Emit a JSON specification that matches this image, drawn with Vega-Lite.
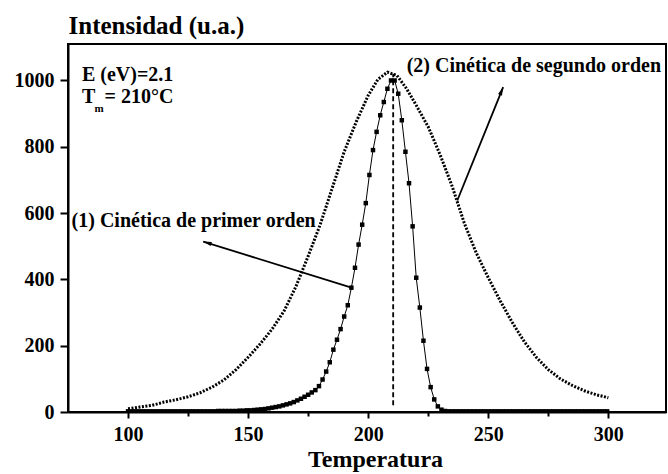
{
  "$schema": "https://vega.github.io/schema/vega-lite/v6.json",
  "width": 598,
  "height": 368,
  "autosize": "none",
  "padding": {"left": 68, "top": 44, "right": 2, "bottom": 62},
  "background": "white",
  "config": {
    "view": {"stroke": "black", "strokeWidth": 2},
    "font": "Liberation Serif"
  },
  "datasets": {
    "second": [
      {"T":100,"I":10},{"T":105,"I":15},{"T":110,"I":20},{"T":115,"I":30},{"T":120,"I":37},{"T":125,"I":46},{"T":130,"I":58},{"T":135,"I":75},{"T":140,"I":97},{"T":145,"I":128},{"T":150,"I":165},{"T":155,"I":205},{"T":160,"I":250},{"T":165,"I":305},{"T":170,"I":380},{"T":175,"I":470},{"T":180,"I":565},{"T":185,"I":675},{"T":190,"I":785},{"T":195,"I":875},{"T":200,"I":955},{"T":204,"I":1003},{"T":208,"I":1025},{"T":212,"I":1015},{"T":216,"I":975},{"T":220,"I":925},{"T":225,"I":860},{"T":230,"I":775},{"T":235,"I":680},{"T":240,"I":570},{"T":245,"I":480},{"T":250,"I":405},{"T":255,"I":335},{"T":260,"I":270},{"T":265,"I":212},{"T":270,"I":165},{"T":275,"I":128},{"T":280,"I":100},{"T":285,"I":80},{"T":290,"I":64},{"T":295,"I":52},{"T":300,"I":43}
    ],
    "first": [
      {"T":100,"I":2},{"T":101.5,"I":2},{"T":103,"I":2},{"T":104.5,"I":2},{"T":106,"I":2},{"T":107.5,"I":2},{"T":109,"I":2},{"T":110.5,"I":2},{"T":112,"I":2},{"T":113.5,"I":2},{"T":115,"I":2},{"T":116.5,"I":2},{"T":118,"I":2},{"T":119.5,"I":2},{"T":121,"I":2},{"T":122.5,"I":2},{"T":124,"I":2},{"T":125.5,"I":2},{"T":127,"I":2},{"T":128.5,"I":2},{"T":130,"I":2},{"T":131.5,"I":2},{"T":133,"I":2},{"T":134.5,"I":2},{"T":136,"I":2},{"T":137.5,"I":3},{"T":139,"I":3},{"T":140.5,"I":3},{"T":142,"I":3},{"T":143.5,"I":3},{"T":145,"I":3},{"T":146.5,"I":4},{"T":148,"I":4},{"T":149.5,"I":5},{"T":151,"I":5},{"T":152.5,"I":6},{"T":154,"I":7},{"T":155.5,"I":8},{"T":157,"I":9},{"T":158.5,"I":11},{"T":160,"I":13},{"T":161.5,"I":15},{"T":163,"I":17},{"T":164.5,"I":20},{"T":166,"I":23},{"T":167.5,"I":26},{"T":169,"I":30},{"T":170.5,"I":35},{"T":172,"I":40},{"T":173.5,"I":46},{"T":175,"I":52},{"T":176.5,"I":59},{"T":178,"I":66},{"T":179.5,"I":78},{"T":181,"I":98},{"T":182.5,"I":122},{"T":184,"I":150},{"T":185.5,"I":188},{"T":187,"I":218},{"T":188.5,"I":250},{"T":190,"I":288},{"T":191.5,"I":322},{"T":193,"I":375},{"T":194.5,"I":435},{"T":196,"I":505},{"T":197.5,"I":565},{"T":199,"I":630},{"T":200.5,"I":715},{"T":202,"I":790},{"T":203.5,"I":845},{"T":205,"I":895},{"T":206.5,"I":935},{"T":208,"I":975},{"T":209.5,"I":1000},{"T":211,"I":1000},{"T":212.5,"I":960},{"T":214,"I":880},{"T":215.5,"I":785},{"T":217,"I":690},{"T":218.5,"I":560},{"T":220,"I":405},{"T":221.5,"I":315},{"T":223,"I":215},{"T":224.5,"I":130},{"T":226,"I":75},{"T":227.5,"I":38},{"T":229,"I":17},{"T":230.5,"I":7},{"T":232,"I":3},{"T":233.5,"I":2},{"T":235,"I":2},{"T":236.5,"I":2},{"T":238,"I":2},{"T":239.5,"I":2},{"T":241,"I":2},{"T":242.5,"I":2},{"T":244,"I":2},{"T":245.5,"I":2},{"T":247,"I":2},{"T":248.5,"I":2},{"T":250,"I":2},{"T":251.5,"I":2},{"T":253,"I":2},{"T":254.5,"I":2},{"T":256,"I":2},{"T":257.5,"I":2},{"T":259,"I":2},{"T":260.5,"I":2},{"T":262,"I":2},{"T":263.5,"I":2},{"T":265,"I":2},{"T":266.5,"I":2},{"T":268,"I":2},{"T":269.5,"I":2},{"T":271,"I":2},{"T":272.5,"I":2},{"T":274,"I":2},{"T":275.5,"I":2},{"T":277,"I":2},{"T":278.5,"I":2},{"T":280,"I":2},{"T":281.5,"I":2},{"T":283,"I":2},{"T":284.5,"I":2},{"T":286,"I":2},{"T":287.5,"I":2},{"T":289,"I":2},{"T":290.5,"I":2},{"T":292,"I":2},{"T":293.5,"I":2},{"T":295,"I":2},{"T":296.5,"I":2},{"T":298,"I":2},{"T":299.5,"I":2}
    ],
    "tm": [{"T":210.4,"I":20,"I2":1020}],
    "arrows": [
      {"a":1,"T":192.7,"I":376,"T2":131.3,"I2":514},
      {"a":2,"T":237.1,"I":638,"T2":256.2,"I2":980}
    ],
    "labels": [
      {"T":80.8,"I":1015,"txt":"E (eV)=2.1"},
      {"T":80.8,"I":949,"txt":"T"},
      {"T":90.2,"I":949,"txt":"= 210°C"},
      {"T":76.5,"I":575,"txt":"(1) Cinética de primer orden"},
      {"T":216,"I":1045,"txt":"(2) Cinética de segundo orden"}
    ],
    "sub": [{"T":86.0,"I":915,"txt":"m"}]
  },
  "layer": [
    {
      "data": {"name": "second"},
      "mark": {"type": "line", "color": "black", "strokeWidth": 3, "strokeDash": [2, 1.5], "clip": true},
      "encoding": {
        "x": {
          "field": "T", "type": "quantitative",
          "scale": {"domain": [75, 324], "nice": false, "zero": false},
          "axis": {
            "values": [100,125,150,175,200,225,250,275,300],
            "labelExpr": "datum.value % 50 === 0 ? datum.label : ''",
            "grid": false,
            "domainColor": "black", "domainWidth": 2,
            "tickColor": "black", "tickWidth": 2,
            "tickSize": {"condition": {"test": "datum.value % 50 !== 0", "value": 4}, "value": 6},
            "labelFont": "Liberation Serif", "labelFontSize": 20, "labelFontWeight": "bold", "labelColor": "black",
            "labelPadding": 6, "labelFlush": false,
            "title": "Temperatura",
            "titleFont": "Liberation Serif", "titleFontSize": 24, "titleFontWeight": "bold", "titleColor": "black",
            "titleX": 307, "titleY": 47, "titleAlign": "center", "titleBaseline": "middle"
          }
        },
        "y": {
          "field": "I", "type": "quantitative",
          "scale": {"domain": [0, 1110], "nice": false},
          "axis": {
            "values": [0,100,200,300,400,500,600,700,800,900,1000],
            "format": "d",
            "labelExpr": "datum.value % 200 === 0 ? datum.label : ''",
            "grid": false,
            "domainColor": "black", "domainWidth": 2,
            "tickColor": "black", "tickWidth": 2,
            "tickSize": {"condition": {"test": "datum.value % 200 !== 0", "value": 4}, "value": 8},
            "labelFont": "Liberation Serif", "labelFontSize": 20, "labelFontWeight": "bold", "labelColor": "black",
            "labelPadding": 6, "labelFlush": false,
            "title": "Intensidad (u.a.)",
            "titleFont": "Liberation Serif", "titleFontSize": 25, "titleFontWeight": "bold", "titleColor": "black",
            "titleAngle": 0, "titleX": 0, "titleY": -19, "titleAlign": "left", "titleBaseline": "middle"
          }
        }
      }
    },
    {
      "data": {"name": "first"},
      "mark": {"type": "line", "color": "black", "strokeWidth": 1, "clip": true},
      "encoding": {
        "x": {"field": "T", "type": "quantitative"},
        "y": {"field": "I", "type": "quantitative"}
      }
    },
    {
      "data": {"name": "first"},
      "mark": {"type": "point", "shape": "square", "filled": true, "color": "black", "size": 20, "opacity": 1, "clip": true},
      "encoding": {
        "x": {"field": "T", "type": "quantitative"},
        "y": {"field": "I", "type": "quantitative"}
      }
    },
    {
      "data": {"name": "tm"},
      "mark": {"type": "rule", "color": "black", "strokeWidth": 1.8, "strokeDash": [5, 3]},
      "encoding": {
        "x": {"field": "T", "type": "quantitative"},
        "y": {"field": "I", "type": "quantitative"},
        "y2": {"field": "I2"}
      }
    },
    {
      "data": {"name": "arrows"},
      "mark": {"type": "rule", "color": "black", "strokeWidth": 1.8},
      "encoding": {
        "x": {"field": "T", "type": "quantitative"},
        "y": {"field": "I", "type": "quantitative"},
        "x2": {"field": "T2"},
        "y2": {"field": "I2"}
      }
    },
    {
      "data": {"name": "arrows"},
      "transform": [{"filter": "datum.a === 1"}],
      "mark": {"type": "point", "shape": "M0,0L0.6,2.4L-0.6,2.4Z", "filled": true, "color": "black", "opacity": 1, "size": 49, "angle": 287},
      "encoding": {
        "x": {"field": "T2", "type": "quantitative"},
        "y": {"field": "I2", "type": "quantitative"}
      }
    },
    {
      "data": {"name": "arrows"},
      "transform": [{"filter": "datum.a === 2"}],
      "mark": {"type": "point", "shape": "M0,0L0.6,2.4L-0.6,2.4Z", "filled": true, "color": "black", "opacity": 1, "size": 49, "angle": 22},
      "encoding": {
        "x": {"field": "T2", "type": "quantitative"},
        "y": {"field": "I2", "type": "quantitative"}
      }
    },
    {
      "data": {"name": "labels"},
      "mark": {"type": "text", "align": "left", "baseline": "middle", "font": "Liberation Serif", "fontSize": 20, "fontWeight": "bold", "color": "black", "clip": true},
      "encoding": {
        "x": {"field": "T", "type": "quantitative"},
        "y": {"field": "I", "type": "quantitative"},
        "text": {"field": "txt"}
      }
    },
    {
      "data": {"name": "sub"},
      "mark": {"type": "text", "align": "left", "baseline": "middle", "font": "Liberation Serif", "fontSize": 11, "fontWeight": "bold", "color": "black"},
      "encoding": {
        "x": {"field": "T", "type": "quantitative"},
        "y": {"field": "I", "type": "quantitative"},
        "text": {"field": "txt"}
      }
    }
  ]
}
